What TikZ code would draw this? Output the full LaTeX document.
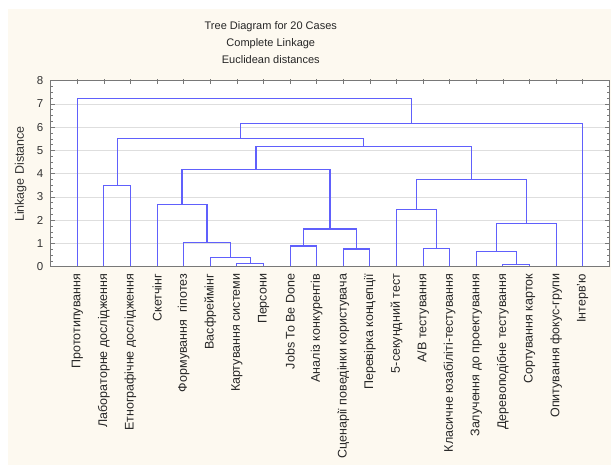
\documentclass[tikz,border=0pt]{standalone}
\usepackage{fontspec}
\setmainfont{Liberation Sans}
\definecolor{cream}{RGB}{253,249,240}
\definecolor{dendblue}{RGB}{96,96,252}
\definecolor{framegray}{RGB}{120,120,120}
\definecolor{gridgray}{RGB}{222,222,222}
\begin{document}
\begin{tikzpicture}[x=1pt,y=1pt,
  dend/.style={draw=dendblue, line width=1.1pt},
  framel/.style={draw=framegray, line width=0.8pt},
  tickl/.style={draw=framegray, line width=0.6pt},
  gridl/.style={draw=gridgray, line width=0.6pt},
  leaflab/.style={rotate=90, anchor=east, inner sep=0pt, text=black!85, font=\fontsize{12.5}{14}\selectfont},
  ticklab/.style={anchor=east, inner sep=0pt, text=black!80, font=\fontsize{11.5}{13}\selectfont},
  titlelab/.style={inner sep=0pt, text=black!85, font=\fontsize{11}{13}\selectfont},
  axislab/.style={rotate=90, inner sep=0pt, text=black!80, font=\fontsize{12.5}{14}\selectfont}]
\useasboundingbox (0,0) rectangle (611,470);
\fill[white] (0,0) rectangle (611,470);
\fill[cream] (8,5) rectangle (611,461);
% titles
\node[titlelab] (title1) at (270.8,443.3) {Tree Diagram for 20 Cases};
\node[titlelab] (title2) at (270.8,426.7) {Complete Linkage};
\node[titlelab] (title3) at (270.8,410) {Euclidean distances};
\node[axislab] (ylab) at (20.7,296) {Linkage Distance};
\begin{scope}[shift={(50.7,203.3)}, x=26.6pt, y=23.25pt]
  \fill[white] (0,0) rectangle (21,8);
  \foreach \k in {1,...,7} \draw[gridl] (0,\k) -- (21,\k);
  % ticks
  \foreach \k in {0,...,8} {
    \draw[tickl] (0,\k) -- ++(4pt,0);
    \draw[tickl] (21,\k) -- ++(-4pt,0);
    \node[ticklab] (yt\k) at (-0.27,\k) {\k};
  }
  \foreach \k in {0.25,0.5,...,7.75} {
    \draw[tickl] (0,\k) -- ++(2pt,0);
    \draw[tickl] (21,\k) -- ++(-2pt,0);
  }
  \foreach \i in {1,...,20} {
    \coordinate (L\i) at (\i,0);
    \draw[tickl] (\i,8) -- ++(0,-3pt);
    \draw[tickl] (\i,8) -- ++(0,2pt);
  }
  % merge points
  \coordinate (m78) at (7.5,0.12);
  \coordinate (m678) at (6.75,0.39);
  \coordinate (m5) at (5.875,1.03);
  \coordinate (m4) at (4.9375,2.68);
  \coordinate (m910) at (9.5,0.89);
  \coordinate (m1112) at (11.5,0.76);
  \coordinate (m912) at (10.5,1.62);
  \coordinate (mA) at (7.71875,4.19);
  \coordinate (m1415) at (14.5,0.79);
  \coordinate (m1315) at (13.75,2.47);
  \coordinate (m1718) at (17.5,0.08);
  \coordinate (m1618) at (16.75,0.65);
  \coordinate (m1619) at (17.875,1.87);
  \coordinate (mB) at (15.8125,3.76);
  \coordinate (mAB) at (11.765625,5.17);
  \coordinate (m23) at (2.5,3.51);
  \coordinate (m219) at (7.1328,5.52);
  \coordinate (m220) at (13.5664,6.17);
  \coordinate (mroot) at (7.2832,7.24);
  % connectors
  \draw[dend] (L7) |- (m78) -| (L8);
  \draw[dend] (L6) |- (m678) -| (m78);
  \draw[dend] (L5) |- (m5) -| (m678);
  \draw[dend] (L4) |- (m4) -| (m5);
  \draw[dend] (L9) |- (m910) -| (L10);
  \draw[dend] (L11) |- (m1112) -| (L12);
  \draw[dend] (m910) |- (m912) -| (m1112);
  \draw[dend] (m4) |- (mA) -| (m912);
  \draw[dend] (L14) |- (m1415) -| (L15);
  \draw[dend] (L13) |- (m1315) -| (m1415);
  \draw[dend] (L17) |- (m1718) -| (L18);
  \draw[dend] (L16) |- (m1618) -| (m1718);
  \draw[dend] (m1618) |- (m1619) -| (L19);
  \draw[dend] (m1315) |- (mB) -| (m1619);
  \draw[dend] (mA) |- (mAB) -| (mB);
  \draw[dend] (L2) |- (m23) -| (L3);
  \draw[dend] (m23) |- (m219) -| (mAB);
  \draw[dend] (m219) |- (m220) -| (L20);
  \draw[dend] (L1) |- (mroot) -| (m220);
  \draw[framel] (0,0) rectangle (21,8);
  % leaf labels
  \node[leaflab] (t1) at (1,-0.3) {Прототипування};
  \node[leaflab] (t2) at (2,-0.3) {Лабораторне дослідження};
  \node[leaflab] (t3) at (3,-0.3) {Етнографічне дослідження};
  \node[leaflab] (t4) at (4,-0.3) {Скетчінг};
  \node[leaflab] (t5) at (5,-0.3) {Формування\ \ гіпотез};
  \node[leaflab] (t6) at (6,-0.3) {Васфреймінг};
  \node[leaflab] (t7) at (7,-0.3) {Картування системи};
  \node[leaflab] (t8) at (8,-0.3) {Персони};
  \node[leaflab] (t9) at (9,-0.3) {Jobs To Be Done};
  \node[leaflab] (t10) at (10,-0.3) {Аналіз конкурентів};
  \node[leaflab] (t11) at (11,-0.3) {Сценарії поведінки користувача};
  \node[leaflab] (t12) at (12,-0.3) {Перевірка концепції};
  \node[leaflab] (t13) at (13,-0.3) {5-секундний тест};
  \node[leaflab] (t14) at (14,-0.3) {A/B тестування};
  \node[leaflab] (t15) at (15,-0.3) {Класичне юзабіліті-тестування};
  \node[leaflab] (t16) at (16,-0.3) {Залучення до проектування};
  \node[leaflab] (t17) at (17,-0.3) {Деревоподібне тестування};
  \node[leaflab] (t18) at (18,-0.3) {Сортування карток};
  \node[leaflab] (t19) at (19,-0.3) {Опитування фокус-групи};
  \node[leaflab] (t20) at (20,-0.3) {Інтерв'ю};
\end{scope}
\end{tikzpicture}
\end{document}
